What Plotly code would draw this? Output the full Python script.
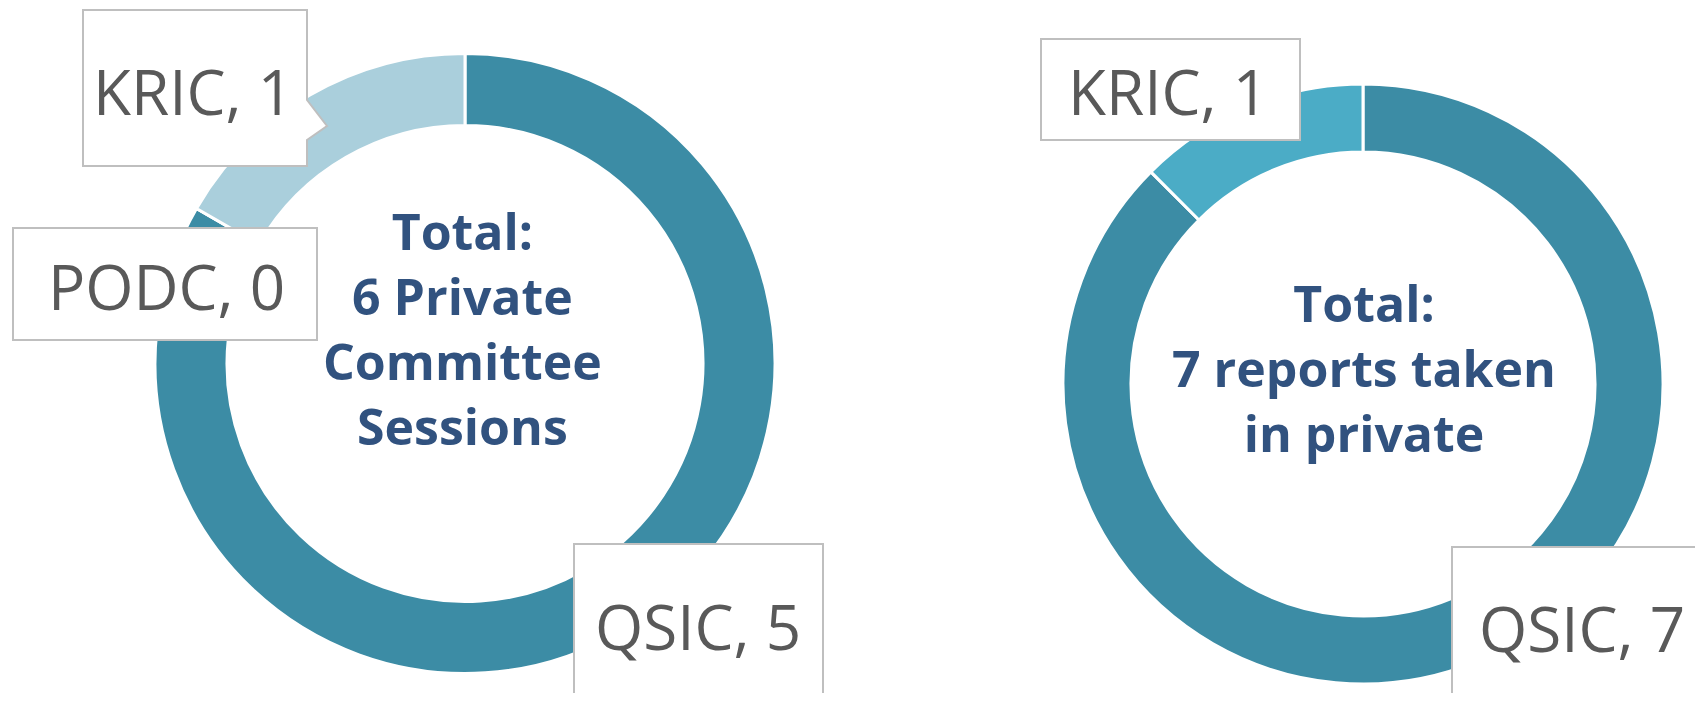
import plotly.graph_objects as go

# page is rendered with an 8px body margin: compensate so positions match screen pixels
OFF = 8
W, H = 1703 - 2 * OFF, 701 - 2 * OFF

# ---- data ----
left_categories = ["QSIC", "PODC", "KRIC"]
left_values = [5, 0, 1]
left_colors = ["#3C8CA5", "#3C8CA5", "#AACFDC"]
left_title = ["Total:", "6 Private", "Committee", "Sessions"]

right_categories = ["QSIC", "KRIC"]
right_values = [7, 1]
right_colors = ["#3C8CA5", "#4BACC6"]
right_title = ["Total:", "7 reports taken", "in private"]


def px_x(p):
    return (p - OFF) / W


def px_y(p):
    return 1 - (p - OFF) / H


fig = go.Figure()

# left donut: center (465, 363.5), r=310
lc, lr = (465, 363.5), 310
fig.add_trace(go.Pie(
    labels=left_categories, values=left_values, hole=238 / 310,
    sort=False, direction="clockwise", rotation=0,
    marker=dict(colors=left_colors, line=dict(color="white", width=3)),
    textinfo="none", hoverinfo="label+value", showlegend=False,
    domain=dict(x=[px_x(lc[0] - lr), px_x(lc[0] + lr)],
                y=[px_y(lc[1] + lr), px_y(lc[1] - lr)]),
))

# right donut: center (1363, 384), r=300
rc, rr = (1363, 384), 300
fig.add_trace(go.Pie(
    labels=right_categories, values=right_values, hole=232 / 300,
    sort=False, direction="clockwise", rotation=0,
    marker=dict(colors=right_colors, line=dict(color="white", width=3)),
    textinfo="none", hoverinfo="label+value", showlegend=False,
    domain=dict(x=[px_x(rc[0] - rr), px_x(rc[0] + rr)],
                y=[px_y(rc[1] + rr), px_y(rc[1] - rr)]),
))

shapes = []
annotations = []

BORDER = "#BFBFBF"
LABEL_COLOR = "#595959"
TITLE_COLOR = "#31527F"


def box_path(x0, y0, x1, y1, pointer=None):
    pts = [(x0, y0), (x1, y0)]
    if pointer:
        (py0, tipx, tipy, py1) = pointer
        pts += [(x1, py0), (tipx, tipy), (x1, py1)]
    pts += [(x1, y1), (x0, y1)]
    d = "M " + " L ".join(f"{px_x(a):.5f},{px_y(b):.5f}" for a, b in pts) + " Z"
    return dict(type="path", xref="paper", yref="paper", path=d,
                fillcolor="white", line=dict(color=BORDER, width=2), layer="above")


def label(text, cx, cy):
    annotations.append(dict(
        text=text, x=px_x(cx), y=px_y(cy), xref="paper", yref="paper",
        xanchor="center", yanchor="middle", showarrow=False,
        font=dict(family="Open Sans", size=62, color=LABEL_COLOR)))


# label boxes (data labels)
label_boxes_left = {
    "KRIC": ((83, 10, 307, 166), (100, 327, 126, 140), (193, 91)),
    "PODC": ((13, 228, 317, 340), None, (166, 286)),
    "QSIC": ((574, 544, 823, 712), None, (698, 626)),
}
label_boxes_right = {
    "KRIC": ((1041, 39, 1300, 140), None, (1168, 91)),
    "QSIC": ((1452, 547, 1715, 712), None, (1582, 628)),
}

for cats, vals, boxes in ((left_categories, left_values, label_boxes_left),
                          (right_categories, right_values, label_boxes_right)):
    for c, v in zip(cats, vals):
        rect, ptr, tc = boxes[c]
        shapes.append(box_path(*rect, pointer=ptr))
        label(f"{c}, {v}", *tc)

# centre titles
annotations.append(dict(
    text="<br>".join(left_title), x=px_x(462), y=px_y(328),
    xref="paper", yref="paper", xanchor="center", yanchor="middle",
    showarrow=False, align="center",
    font=dict(family="Open Sans", size=50, color=TITLE_COLOR, weight=700)))
annotations.append(dict(
    text="<br>".join(right_title), x=px_x(1364), y=px_y(368),
    xref="paper", yref="paper", xanchor="center", yanchor="middle",
    showarrow=False, align="center",
    font=dict(family="Open Sans", size=50, color=TITLE_COLOR, weight=700)))

fig.update_layout(
    width=W, height=H,
    margin=dict(l=0, r=0, t=0, b=0),
    paper_bgcolor="white", plot_bgcolor="white",
    shapes=shapes, annotations=annotations,
)

fig.write_html("out.html")
